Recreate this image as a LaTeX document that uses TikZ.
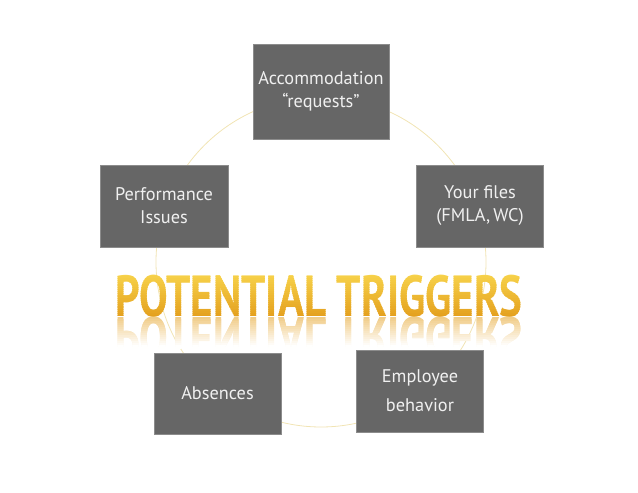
\documentclass[tikz,border=0pt]{standalone}
\usepackage{fontspec}
\setmainfont{PT Sans}

\definecolor{boxgray}{HTML}{666666}
\definecolor{boxedge}{HTML}{8C8C8C}
\definecolor{ringcol}{HTML}{F1E4B4}
\definecolor{goldtop}{HTML}{F7D24A}
\definecolor{goldbot}{HTML}{E39E1C}

\newcommand{\titletext}{\scalebox{0.74}[1]{POTENTIAL TRIGGERS}}

\begin{document}
\begin{tikzpicture}[x=1pt, y=1pt,
	trigger/.style={fill=boxgray, draw=boxedge, line width=0.5pt, text=white!94!black,
		align=center, inner sep=0pt, minimum width=127pt, minimum height=82pt,
		font=\fontsize{18.3}{23}\selectfont},
	titlefont/.style={inner sep=0pt, font=\bfseries\fontsize{58}{58}\selectfont}]
	
	\useasboundingbox (0,0) rectangle (638,493);
	
	%ring behind the boxes
	\draw [ringcol, line width=0.8pt](321,231) circle [radius=165pt];
	
	\node [trigger, minimum width=136pt, minimum height=95pt] (accom) at (321,401.5) {Accommodation\\``requests''};
	\node [trigger, minimum width=128pt] (perf) at (164,287) {Performance\\Issues};
	\node [trigger] (files) at (480,287) {Your files\\(FMLA,\,WC)};
	\node [trigger, minimum height=81pt] (absence) at (217.5,99.5) {Absences};
	\node [trigger, font=\fontsize{18.3}{29}\selectfont] (behav) at (420,102) {Employee\\behavior};
	
	%title, shaded strip by strip
	\foreach \i in {0,...,19}{
		\pgfmathsetmacro{\mix}{100-5*\i}
		\begin{scope}
			\clip (90,{219-2.2*\i}) rectangle (550,{216.6-2.2*\i});
			\node [titlefont, text=goldtop!\mix!goldbot, anchor=base] (title\i) at (319,176) {\titletext};
		\end{scope}
	}
	%mirror image fading out
	\foreach \i in {0,...,14}{
		\pgfmathsetmacro{\mix}{52-3.7*\i}
		\begin{scope}
			\clip (90,{175-2*\i}) rectangle (550,{172.8-2*\i});
			\node [titlefont, text=goldbot!\mix!white, anchor=base, yscale=-1, transform shape] (mirror\i) at (319,175) {\titletext};
		\end{scope}
	}
\end{tikzpicture}
\end{document}
